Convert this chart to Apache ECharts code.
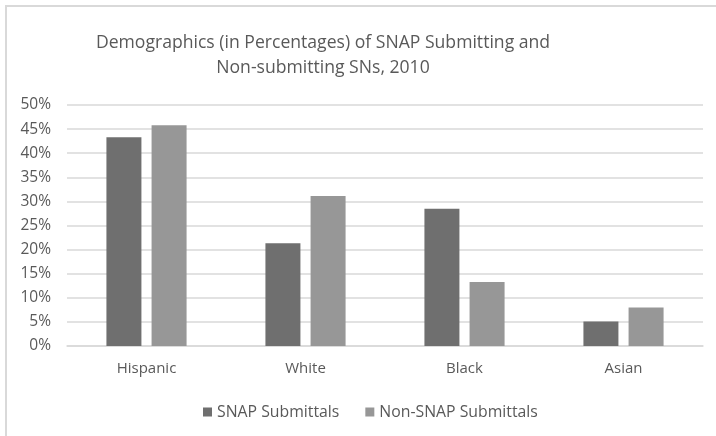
<!DOCTYPE html>
<html>
<head>
<meta charset="utf-8">
<script src="https://cdn.jsdelivr.net/npm/echarts@6/dist/echarts.min.js"></script>
<style>
  html, body { margin: 0; padding: 0; background: #fff; }
  #chart { width: 716px; height: 436px; }
  .frame { position: absolute; left: 5px; top: 5px; width: 720px; height: 440px;
           border-top: 2px solid #d9d9d9; border-left: 2px solid #d9d9d9; pointer-events: none; }
</style>
</head>
<body>
<div id="chart"></div>
<div class="frame"></div>
<script>
// 数据
const categories = ['Hispanic', 'White', 'Black', 'Asian']
const snapSubmittals = [43.3, 21.3, 28.5, 5.1]
const nonSnapSubmittals = [45.8, 31.1, 13.3, 8.0]
const yTicks = [0, 5, 10, 15, 20, 25, 30, 35, 40, 45, 50]

const font = '"Open Sans", "Liberation Sans", sans-serif'
const textColor = '#595959'

const chart = echarts.init(document.getElementById('chart'))
chart.setOption({
  animation: false,
  title: {
    text: 'Demographics (in Percentages) of SNAP Submitting and\nNon-submitting SNs, 2010',
    left: 318,
    top: 25,
    textAlign: 'center',
    textStyle: {
      color: textColor,
      fontFamily: font,
      fontSize: 17.6,
      fontWeight: 'normal',
      lineHeight: 25
    }
  },
  legend: {
    left: 198,
    top: 399,
    icon: 'rect',
    itemWidth: 9, // 图例方块
    itemHeight: 9,
    itemGap: 26,
    textStyle: { color: textColor, fontFamily: font, fontSize: 15.8 },
    data: ['SNAP Submittals', 'Non-SNAP Submittals']
  },
  grid: { left: 67, right: 13, top: 105, bottom: 90 },
  xAxis: {
    type: 'category',
    data: categories,
    axisTick: { show: false },
    axisLine: { lineStyle: { color: '#d9d9d9', width: 1.5 } },
    axisLabel: { color: textColor, fontFamily: font, fontSize: 15, margin: 15 }
  },
  yAxis: {
    type: 'value',
    min: yTicks[0],
    max: yTicks[yTicks.length - 1],
    interval: 5,
    axisLine: { show: false },
    axisTick: { show: false },
    splitLine: { lineStyle: { color: '#d9d9d9', width: 1.5 } },
    axisLabel: { color: textColor, fontFamily: font, fontSize: 15.5, margin: 16, formatter: '{value}%' }
  },
  series: [
    {
      name: 'SNAP Submittals',
      type: 'bar',
      data: snapSubmittals,
      barWidth: 35,
      barGap: '29%',
      itemStyle: { color: '#6f6f6f' }
    },
    {
      name: 'Non-SNAP Submittals',
      type: 'bar',
      data: nonSnapSubmittals,
      barWidth: 35,
      barGap: '29%',
      itemStyle: { color: '#979797' }
    }
  ]
})
</script>
</body>
</html>
